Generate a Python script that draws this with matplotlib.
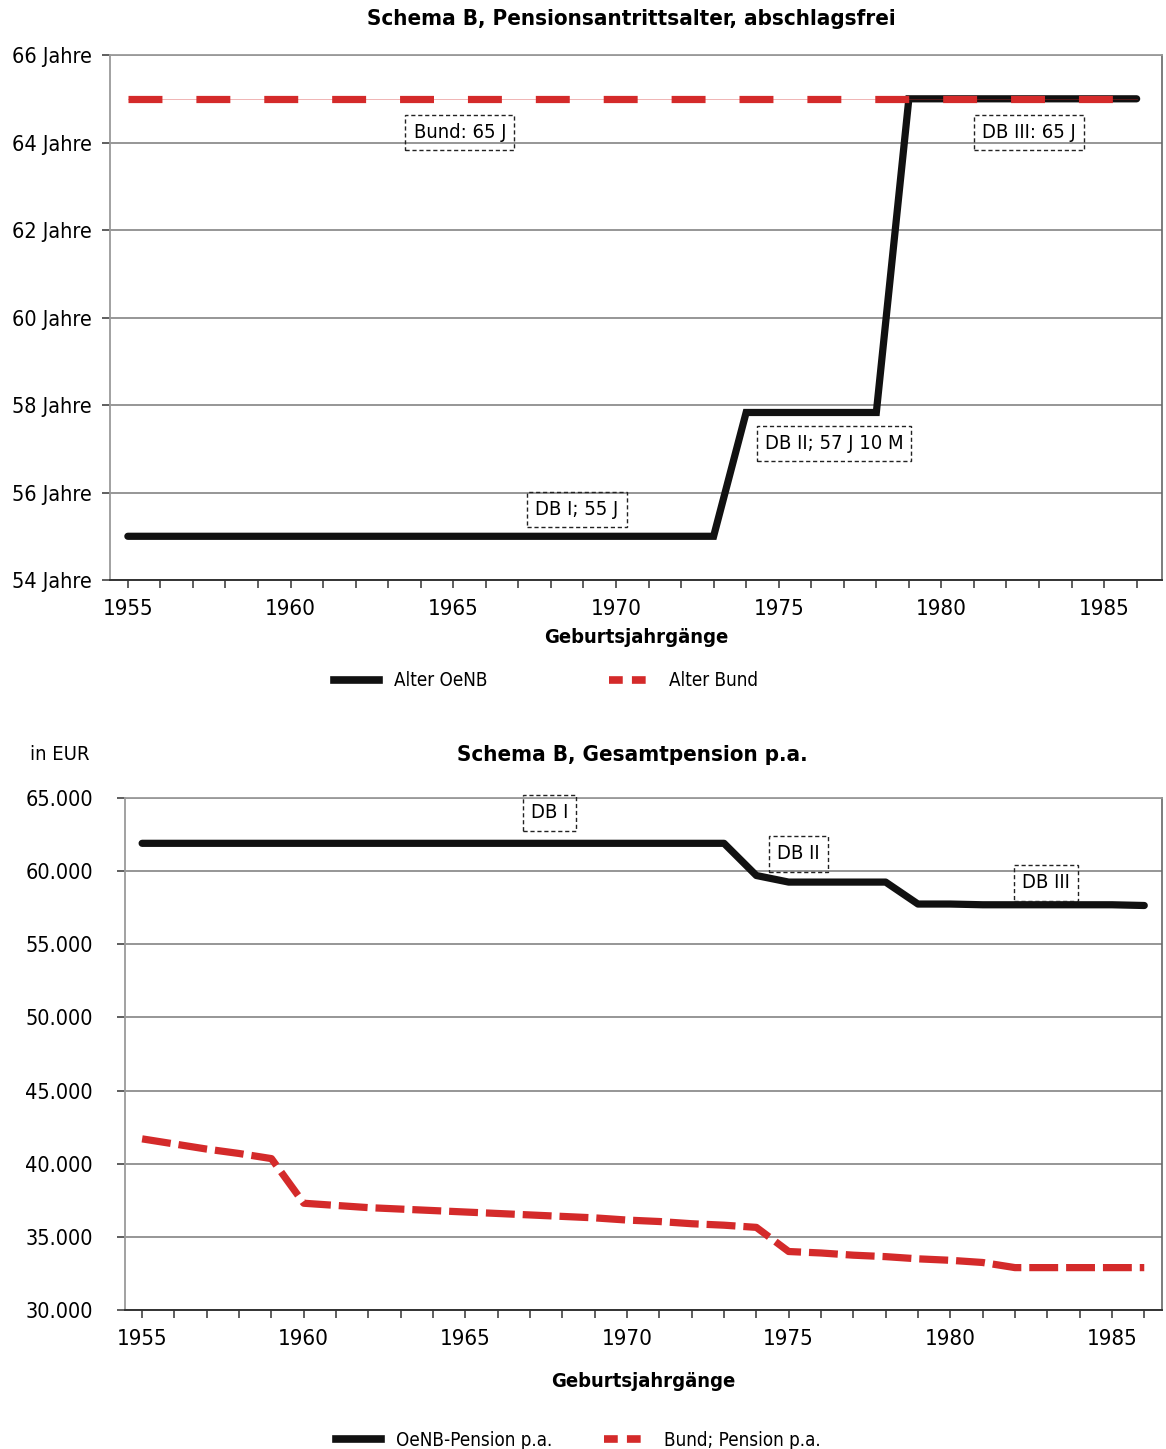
import matplotlib
matplotlib.use("Agg")
import matplotlib.pyplot as plt
import matplotlib.ticker as mticker
from matplotlib.lines import Line2D

plt.rcParams["font.family"] = ["DejaVu Sans"]
plt.rcParams["font.stretch"] = "condensed"

# --- data ---------------------------------------------------------------
years = list(range(1955, 1987))

# retirement age (years) without deductions
age_oenb = [55.0] * 19 + [57.83] * 5 + [65.0] * 8       # 1955-1973, 1974-1978, 1979-1986
age_bund = [65.0] * 32

# total pension per year in EUR
pension_oenb = [61900] * 19 + [59700, 59250, 59250, 59250, 59250,
                               57750, 57750, 57700, 57700, 57700, 57700, 57700, 57650]
pension_bund = [41700, 41350, 41000, 40700, 40350,
                37300, 37150, 37000, 36900, 36800, 36700, 36600, 36500, 36400, 36300,
                36150, 36050, 35900, 35800, 35650,
                34000, 33900, 33750, 33650, 33500, 33400, 33250,
                32900, 32900, 32900, 32900, 32900]

age_ticks = [54, 56, 58, 60, 62, 64, 66]
eur_ticks = [30000, 35000, 40000, 45000, 50000, 55000, 60000, 65000]

BLACK = "#111111"
RED = "#d42a2a"
GRID = "#8e8e8e"
AXIS = "#333333"

fig = plt.figure(figsize=(11.66, 14.49), dpi=100)
ax1 = fig.add_axes([0.0943, 0.5997, 0.9023, 0.3623])
ax2 = fig.add_axes([0.1072, 0.0959, 0.8894, 0.3534])


def style_axes(ax, xlim, labelpad):
    ax.set_xlim(*xlim)
    ax.xaxis.set_major_locator(mticker.MultipleLocator(5))
    ax.xaxis.set_minor_locator(mticker.MultipleLocator(1))
    ax.tick_params(axis="x", which="both", direction="out", length=6, width=1.1,
                   color=AXIS, labelsize=16, pad=8)
    ax.tick_params(axis="y", direction="out", length=6, width=1.1, color=AXIS,
                   labelsize=15.5, pad=7)
    ax.grid(axis="y", color=GRID, linewidth=1.3)
    ax.set_axisbelow(True)
    ax.spines["left"].set_color("#9a9a9a")
    ax.spines["left"].set_linewidth(1.3)
    ax.spines["top"].set_color("#9a9a9a")
    ax.spines["top"].set_linewidth(1.3)
    ax.spines["right"].set_color("#666666")
    ax.spines["right"].set_linewidth(1.2)
    ax.spines["bottom"].set_color(AXIS)
    ax.spines["bottom"].set_linewidth(1.4)
    ax.set_xlabel("Geburtsjahrgänge", fontsize=14.5, fontweight="bold", labelpad=labelpad)


def note(ax, x, y, s):
    ax.text(x, y, s, ha="center", va="center", fontsize=14.5, zorder=6,
            bbox=dict(boxstyle="square,pad=0.4", facecolor="none", edgecolor="#222222",
                      linewidth=1.0, linestyle=(0, (3, 2))))


# =============================================================================
# 1) retirement age
# =============================================================================
ax1.plot(years, age_oenb, color=BLACK, linewidth=5.2, solid_capstyle="round",
         solid_joinstyle="miter", zorder=3)
ax1.plot(years, age_bund, color=RED, linewidth=0.7, alpha=0.35, zorder=3)
ax1.plot(years, age_bund, color=RED, linewidth=5.2, dashes=(4.7, 4.7), zorder=4)
ax1.set_ylim(54, 66)
ax1.set_yticks(age_ticks)
ax1.set_yticklabels([f"{t} Jahre" for t in age_ticks])
style_axes(ax1, (1954.45, 1986.78), labelpad=6)
note(ax1, 1965.2, 64.24, "Bund: 65 J")
note(ax1, 1982.7, 64.24, "DB III: 65 J")
note(ax1, 1976.7, 57.13, "DB II; 57 J 10 M")
note(ax1, 1968.8, 55.62, "DB I; 55 J")
fig.text(631 / 1166, 1 - 19 / 1449, "Schema B, Pensionsantrittsalter, abschlagsfrei",
         ha="center", va="center", fontsize=16, fontweight="bold")

leg_handles = [Line2D([], [], color=BLACK, linewidth=5.5),
               Line2D([], [], color=RED, linewidth=5.5, dashes=(1.8, 1.2))]
fig.legend(leg_handles, ["Alter OeNB", "Alter Bund"], loc="center",
           bbox_to_anchor=(0.468, 1 - 681 / 1449), ncol=2, frameon=False,
           fontsize=13.5, handlelength=2.4, columnspacing=6.5, handletextpad=0.8)

# =============================================================================
# 2) total pension p.a.
# =============================================================================
ax2.plot(years, pension_oenb, color=BLACK, linewidth=5.2, solid_capstyle="round", zorder=3)
ax2.plot(years, pension_bund, color=RED, linewidth=5.2, dashes=(4.0, 1.1), zorder=4)
ax2.set_ylim(30000, 65000)
ax2.set_yticks(eur_ticks)
ax2.yaxis.set_major_formatter(mticker.FuncFormatter(lambda v, p: f"{v:,.0f}".replace(",", ".")))
style_axes(ax2, (1954.47, 1986.55), labelpad=16)
ax2.tick_params(axis="y", pad=17)
note(ax2, 1967.6, 63975, "DB I")
note(ax2, 1975.3, 61172, "DB II")
note(ax2, 1982.95, 59190, "DB III")
fig.text(632 / 1166, 1 - 755 / 1449, "Schema B, Gesamtpension p.a.",
         ha="center", va="center", fontsize=16, fontweight="bold")
fig.text(30 / 1166, 1 - 754 / 1449, "in EUR", ha="left", va="center", fontsize=14.5)

fig.legend(leg_handles, ["OeNB-Pension p.a.", "Bund; Pension p.a."], loc="center",
           bbox_to_anchor=(0.496, 1 - 1440 / 1449), ncol=2, frameon=False,
           fontsize=13.5, handlelength=2.4, columnspacing=2.75, handletextpad=0.8)

fig.savefig("out.png", facecolor="white")
